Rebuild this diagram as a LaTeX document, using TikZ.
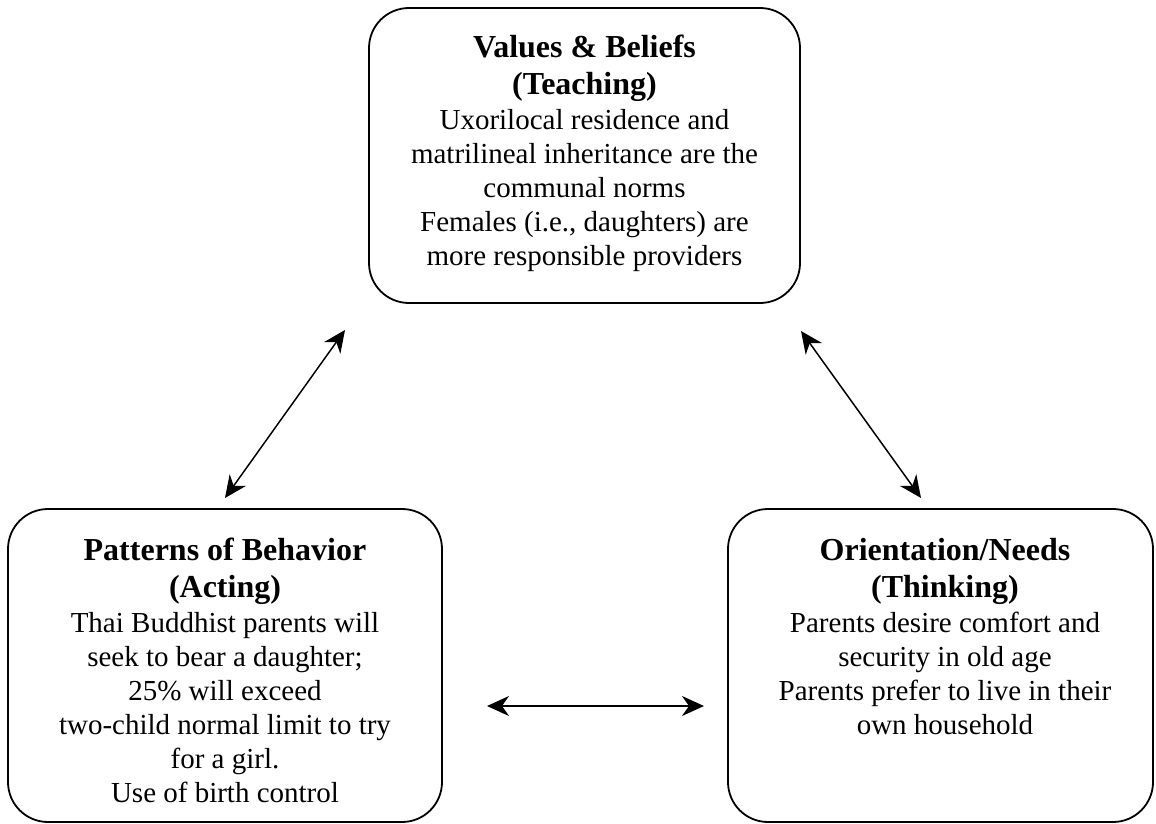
\documentclass[tikz,border=0pt]{standalone}
\usepackage{fontspec}
\setmainfont{Liberation Serif}
\usetikzlibrary{arrows.meta}
\newcommand{\ttl}[1]{{\fontsize{32}{34}\selectfont\bfseries #1}}
\begin{document}
\begin{tikzpicture}[x=1pt,y=-1pt,
 box/.style={draw, line width=1.8pt, rounded corners=40pt, minimum width=#1, inner sep=0pt},
 txt/.style={align=center, anchor=north, inner sep=0pt, font=\fontsize{29}{34}\selectfont},
 link/.style={line width=1.5pt, {Stealth[length=22pt,width=20pt,inset=7pt]}-{Stealth[length=22pt,width=20pt,inset=7pt]}}]
\useasboundingbox (0,0) rectangle (1156,824);
\node[box=431pt, minimum height=295pt] (vb) at (584.5,155.5) {};
\node[box=434pt, minimum height=313pt] (pb) at (225,665.5) {};
\node[box=425pt, minimum height=313pt] (on) at (940.5,665.5) {};
\node[txt] (vbt) at (584.5,35) {\ttl{Values \& Beliefs}\\[3pt] \ttl{(Teaching)}\\[1pt]
 Uxorilocal residence and\\ matrilineal inheritance are the\\ communal norms\\ Females (i.e., daughters) are\\ more responsible providers};
\node[txt] (pbt) at (225,538) {\ttl{Patterns of Behavior}\\[3pt] \ttl{(Acting)}\\[1pt]
 Thai Buddhist parents will\\ seek to bear a daughter;\\ 25\% will exceed\\ two-child normal limit to try\\ for a girl.\\ Use of birth control};
\node[txt] (ont) at (945,538) {\ttl{Orientation/Needs}\\[3pt] \ttl{(Thinking)}\\[1pt]
 Parents desire comfort and\\ security in old age\\ Parents prefer to live in their\\ own household};
\coordinate (a1) at (225,498);
\coordinate (a2) at (345,330);
\coordinate (b1) at (801,331);
\coordinate (b2) at (921,498);
\coordinate (c1) at (487,706);
\coordinate (c2) at (704,706);
\draw[link] (a1) -- (a2);
\draw[link] (b1) -- (b2);
\draw[link] (c1) -- (c2);
\end{tikzpicture}
\end{document}
